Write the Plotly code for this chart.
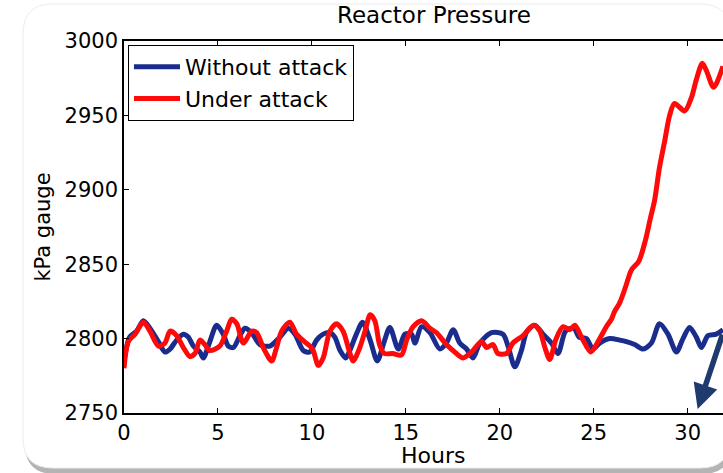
import plotly.graph_objects as go

# Reactor pressure over time, normal operation vs. operation under attack
hours_normal = [0.0, 0.3, 0.67, 1.03, 1.38, 1.83, 2.18, 2.45, 2.8, 3.16, 3.42, 3.69, 4.04, 4.22,
                4.57, 4.93, 5.28, 5.55, 5.82, 6.17, 6.44, 6.79, 7.23, 7.77, 8.3, 8.74, 9.1, 9.54,
                9.89, 10.25, 10.6, 10.96, 11.22, 11.5, 11.8, 12.02, 12.4, 12.7, 13.1, 13.48,
                13.85, 14.15, 14.6, 14.95, 15.3, 15.48, 15.84, 16.28, 16.81, 17.16, 17.52,
                17.87, 18.23, 18.58, 18.94, 19.56, 20.17, 20.44, 20.8, 21.15, 21.45, 21.86,
                22.3, 22.75, 23.1, 23.5, 23.95, 24.22, 24.61, 24.96, 25.32, 25.85, 26.38,
                26.74, 27.18, 27.62, 28.07, 28.5, 28.95, 29.4, 29.75, 30.1, 30.46, 30.73,
                31.08, 31.52, 31.88]
kpa_normal = [2785, 2801, 2805, 2812, 2807, 2798, 2791, 2793, 2799, 2803, 2801, 2795, 2791, 2787,
              2798, 2809, 2803, 2795, 2794, 2802, 2807, 2804, 2796, 2795, 2801, 2807, 2803, 2792,
              2791, 2799, 2803, 2804, 2801, 2792, 2787, 2792, 2804, 2811, 2799, 2785,
              2798, 2807.5, 2793, 2803, 2803, 2797, 2808, 2804, 2793, 2797, 2806,
              2797, 2793, 2787, 2797, 2804, 2803, 2795, 2781, 2792, 2805, 2809,
              2803, 2797, 2790, 2805, 2807, 2801, 2800, 2793, 2797, 2800, 2799,
              2798, 2796, 2793, 2797, 2810, 2803, 2791, 2800, 2807.5, 2801, 2794,
              2802, 2803, 2806]

hours_attack = [0.0, 0.23, 0.59, 1.03, 1.38, 1.83, 2.18, 2.45, 2.8, 3.16, 3.5, 3.78, 4.04, 4.3,
                4.57, 5.1, 5.46, 5.73, 6.0, 6.35, 6.8, 7.06, 7.41, 7.86, 8.12, 8.39, 8.83, 9.18,
                9.6, 9.9, 10.07, 10.34, 10.6, 10.96, 11.31, 11.66, 11.98, 12.2, 12.55, 12.85,
                13.1, 13.35, 13.6, 13.85, 14.3, 14.77, 15.04, 15.39, 15.84, 16.28, 16.63,
                17.16, 17.6, 18.05, 18.5, 19.03, 19.3, 19.64, 19.9, 20.36, 20.7, 21.24, 21.8,
                22.13, 22.4, 22.66, 23.0, 23.37, 23.72, 24.0, 24.35, 24.85, 25.23, 25.67,
                25.94, 26.1, 26.38, 26.7, 27.0, 27.4, 27.75, 28.0, 28.24, 28.5, 28.78, 29.04,
                29.3, 29.84, 30.2, 30.46, 30.78, 31.0, 31.38, 31.88]
kpa_attack = [2780, 2798, 2803, 2811, 2805, 2795, 2797, 2805, 2802, 2794, 2788, 2790, 2799, 2796,
              2792, 2795, 2805, 2813, 2810, 2797, 2805, 2804, 2794, 2785, 2794, 2805, 2811, 2803,
              2798, 2795, 2792, 2782, 2787, 2805, 2810, 2805, 2792, 2785, 2794, 2806,
              2816, 2812, 2796, 2790, 2790, 2789, 2799, 2808, 2812, 2807, 2804,
              2796, 2791, 2787, 2791, 2798, 2794, 2796, 2790, 2790, 2797, 2802, 2809,
              2805, 2794, 2786, 2800, 2808, 2806, 2809, 2801, 2791, 2798, 2808,
              2813, 2818, 2824, 2835, 2846, 2852, 2866, 2880, 2893, 2915, 2933, 2950,
              2958, 2953, 2962, 2974, 2985, 2980, 2969, 2983]

x_ticks = [0, 5, 10, 15, 20, 25, 30]
y_ticks = [2750, 2800, 2850, 2900, 2950, 3000]

FONT = "DejaVu Sans"
W, H = 723, 473
ML, MR, MT, MB = 124, 0, 41, 60
PW, PH = W - ML - MR, H - MT - MB


def px(xp):
    return (xp - ML) / PW


def py(yp):
    return (H - MB - yp) / PH


def rounded_rect(x0, y0, x1, y1, r):
    # pixel rectangle with rounded corners, expressed in paper coordinates
    pts = [
        f"M {px(x0 + r)} {py(y0)}",
        f"L {px(x1 - r)} {py(y0)}",
        f"Q {px(x1)} {py(y0)} {px(x1)} {py(y0 + r)}",
        f"L {px(x1)} {py(y1 - r)}",
        f"Q {px(x1)} {py(y1)} {px(x1 - r)} {py(y1)}",
        f"L {px(x0 + r)} {py(y1)}",
        f"Q {px(x0)} {py(y1)} {px(x0)} {py(y1 - r)}",
        f"L {px(x0)} {py(y0 + r)}",
        f"Q {px(x0)} {py(y0)} {px(x0 + r)} {py(y0)}",
        "Z",
    ]
    return " ".join(pts)


fig = go.Figure()
fig.add_trace(go.Scatter(
    x=hours_normal, y=kpa_normal, mode="lines", name="Without attack",
    line=dict(color="#1a2d8c", width=5, shape="spline", smoothing=0.8),
))
fig.add_trace(go.Scatter(
    x=hours_attack, y=kpa_attack, mode="lines", name="Under attack",
    line=dict(color="#ff0a0a", width=5, shape="spline", smoothing=0.8),
))

# card background with a soft drop shadow
fig.add_shape(type="path", xref="paper", yref="paper", layer="below",
              path=rounded_rect(25, 9, 732, 474, 30),
              fillcolor="#b4b4b4", line=dict(width=0))
fig.add_shape(type="path", xref="paper", yref="paper", layer="below",
              path=rounded_rect(23, 4, 730, 468, 30),
              fillcolor="white", line=dict(color="#ececec", width=1))

# pointer arrow at the lower right
fig.add_annotation(x=30.53, y=2752.7, xref="x", yref="y", text="",
                   showarrow=True, arrowhead=2, arrowsize=0.9, arrowwidth=5.5,
                   arrowcolor="#1f3a6e", ax=29, ay=-76)

fig.add_annotation(text="Reactor Pressure", xref="paper", yref="paper",
                   x=px(434), y=py(15), xanchor="center", yanchor="middle",
                   showarrow=False, font=dict(family=FONT, size=23, color="black"))
fig.add_annotation(text="Hours", xref="paper", yref="paper",
                   x=px(433), y=py(456), xanchor="center", yanchor="middle",
                   showarrow=False, font=dict(family=FONT, size=22, color="black"))

fig.update_layout(
    width=W, height=H,
    margin=dict(l=ML, r=MR, t=MT, b=MB, pad=0),
    paper_bgcolor="white", plot_bgcolor="rgba(0,0,0,0)",
    font=dict(family=FONT, size=21, color="black"),
    showlegend=True,
    legend=dict(x=px(128), y=py(45), xanchor="left", yanchor="top",
                bgcolor="white", bordercolor="black", borderwidth=1,
                font=dict(family=FONT, size=22, color="black"),
                itemwidth=46, tracegroupgap=0),
    xaxis=dict(range=[0, 31.88], tickvals=x_ticks, ticktext=[str(v) for v in x_ticks],
               showgrid=False, zeroline=False, showline=True, linecolor="black",
               linewidth=1.5, mirror="ticks", ticks="inside", ticklen=5,
               tickcolor="black", tickwidth=1, automargin=False,
               tickfont=dict(family=FONT, size=21)),
    yaxis=dict(range=[2750, 3000], tickvals=y_ticks, ticktext=[str(v) for v in y_ticks],
               showgrid=False, zeroline=False, showline=True, linecolor="black",
               linewidth=1.5, ticks="inside", ticklen=5, tickcolor="black",
               tickwidth=1, automargin=False,
               tickfont=dict(family=FONT, size=21),
               title=dict(text="kPa gauge", font=dict(family=FONT, size=21), standoff=8)),
)

fig.write_html("out.html")
